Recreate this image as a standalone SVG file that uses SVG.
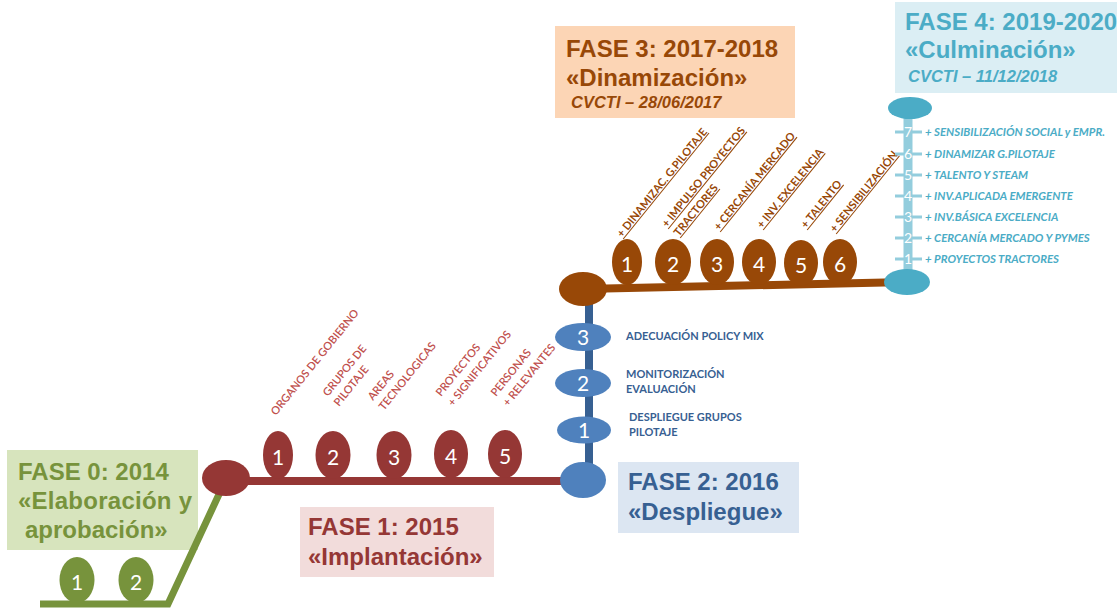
<svg xmlns="http://www.w3.org/2000/svg" width="1117" height="609" viewBox="0 0 1117 609">
<style>
.hd{font-family:"Liberation Sans",Arial,sans-serif;font-weight:bold;font-size:24px}
.sub{font-family:"Liberation Sans",Arial,sans-serif;font-weight:bold;font-style:italic;font-size:16.5px}
.num{font-family:Lato,"Open Sans",sans-serif;fill:#fff;text-anchor:middle}
.rl{font-family:Lato,"Open Sans",sans-serif;font-size:11px;fill:#c0504d;font-weight:600}
.bl{font-family:Lato,"Open Sans",sans-serif;font-size:11px;fill:#376092;font-weight:bold}
.br{font-family:Lato,"Open Sans",sans-serif;font-size:11px;fill:#984807;font-weight:bold;text-decoration:underline}
.cl{font-family:Lato,"Open Sans",sans-serif;font-size:11.4px;fill:#4bacc6;font-weight:bold;font-style:italic}
.tk{stroke:#93cddd;stroke-width:3}
</style>

<!-- Phase boxes -->
<g id="fase0">
  <rect x="7" y="450" width="191" height="100" fill="#d7e4bd"/>
  <text class="hd" fill="#77933c" x="18" y="480">FASE 0: 2014</text>
  <text class="hd" fill="#77933c" x="18" y="509" textLength="174">«Elaboración y</text>
  <text class="hd" fill="#77933c" x="25" y="538">aprobación»</text>
</g>
<g id="fase1">
  <rect x="300" y="507" width="194" height="70" fill="#f2dcdb"/>
  <text class="hd" fill="#953735" x="308" y="535">FASE 1: 2015</text>
  <text class="hd" fill="#953735" x="308" y="565">«Implantación»</text>
</g>
<g id="fase2">
  <rect x="618" y="462" width="181" height="71" fill="#dce6f2"/>
  <text class="hd" fill="#376092" x="628" y="490">FASE 2: 2016</text>
  <text class="hd" fill="#376092" x="628" y="520">«Despliegue»</text>
</g>
<g id="fase3">
  <rect x="555" y="26" width="240" height="92" fill="#fcd5b5"/>
  <text class="hd" fill="#984807" x="566" y="57">FASE 3: 2017-2018</text>
  <text class="hd" fill="#984807" x="566" y="86">«Dinamización»</text>
  <text class="sub" fill="#984807" x="571" y="108">CVCTI – 28/06/2017</text>
</g>
<g id="fase4">
  <rect x="895" y="2" width="222" height="91" fill="#dbeef4"/>
  <text class="hd" fill="#4bacc6" x="905" y="30">FASE 4: 2019-2020</text>
  <text class="hd" fill="#4bacc6" x="905" y="58">«Culminación»</text>
  <text class="sub" fill="#4bacc6" x="908" y="82">CVCTI – 11/12/2018</text>
</g>

<!-- Connectors -->
<g id="connectors" fill="none">
  <polyline points="40,604 168,604 221,490" stroke="#77933c" stroke-width="7"/>
  <line x1="226" y1="481" x2="583" y2="481" stroke="#953735" stroke-width="8"/>
  <line x1="589" y1="290" x2="589" y2="480" stroke="#376092" stroke-width="8"/>
  <line x1="583" y1="289" x2="907" y2="282" stroke="#984807" stroke-width="8"/>
  <line x1="908" y1="107" x2="908" y2="282" stroke="#93cddd" stroke-width="9"/>
</g>

<!-- Phase 0 milestones -->
<g id="p0-1"><ellipse cx="77" cy="580" rx="17.5" ry="23" fill="#77933c"/><text class="num" x="77" y="590" font-size="21">1</text></g>
<g id="p0-2"><ellipse cx="136" cy="580" rx="17.5" ry="23" fill="#77933c"/><text class="num" x="136" y="590" font-size="21">2</text></g>

<!-- Phase 1 -->
<g id="p1-start"><ellipse cx="226" cy="478" rx="24" ry="18" fill="#953735"/></g>
<g id="p1-1"><ellipse cx="278" cy="455" rx="15" ry="24" fill="#953735"/><text class="num" x="278" y="465" font-size="21">1</text>
  <text class="rl" transform="translate(276,416) rotate(-51)">ORGANOS DE GOBIERNO</text></g>
<g id="p1-2"><ellipse cx="333" cy="455" rx="17.5" ry="24" fill="#953735"/><text class="num" x="333" y="465" font-size="21">2</text>
  <text class="rl" transform="translate(328,397) rotate(-51)">GRUPOS DE</text>
  <text class="rl" transform="translate(339,407) rotate(-51)">PILOTAJE</text></g>
<g id="p1-3"><ellipse cx="394" cy="455" rx="17.5" ry="24" fill="#953735"/><text class="num" x="394" y="465" font-size="21">3</text>
  <text class="rl" transform="translate(373,401) rotate(-51)">AREAS</text>
  <text class="rl" transform="translate(384,411) rotate(-51)">TECNOLOGICAS</text></g>
<g id="p1-4"><ellipse cx="451" cy="454" rx="17" ry="24" fill="#953735"/><text class="num" x="451" y="464" font-size="21">4</text>
  <text class="rl" transform="translate(441,397) rotate(-51)">PROYECTOS</text>
  <text class="rl" transform="translate(453,407) rotate(-51)">+ SIGNIFICATIVOS</text></g>
<g id="p1-5"><ellipse cx="505" cy="454" rx="17" ry="24" fill="#953735"/><text class="num" x="505" y="464" font-size="21">5</text>
  <text class="rl" transform="translate(496,397) rotate(-51)">PERSONAS</text>
  <text class="rl" transform="translate(508,407) rotate(-51)">+ RELEVANTES</text></g>

<!-- Phase 2 -->
<g id="p2-end"><ellipse cx="583" cy="480" rx="23" ry="18" fill="#4f81bd"/></g>
<g id="p2-1"><ellipse cx="584" cy="430" rx="27" ry="13.5" fill="#4f81bd"/><text class="num" x="584" y="438" font-size="21">1</text>
  <text class="bl" x="629" y="421">DESPLIEGUE GRUPOS</text><text class="bl" x="629" y="436">PILOTAJE</text></g>
<g id="p2-2"><ellipse cx="583" cy="383" rx="28" ry="14" fill="#4f81bd"/><text class="num" x="583" y="391" font-size="21">2</text>
  <text class="bl" x="626" y="378">MONITORIZACIÓN</text><text class="bl" x="626" y="393">EVALUACIÓN</text></g>
<g id="p2-3"><ellipse cx="583" cy="337" rx="28" ry="14" fill="#4f81bd"/><text class="num" x="583" y="345" font-size="21">3</text>
  <text class="bl" x="626" y="340">ADECUACIÓN POLICY MIX</text></g>

<!-- Phase 3 -->
<g id="p3-start"><ellipse cx="583" cy="289" rx="24" ry="17" fill="#984807"/></g>
<g id="p3-1"><ellipse cx="627" cy="262" rx="15" ry="23" fill="#984807"/><text class="num" x="627" y="272" font-size="21">1</text>
  <text class="br" transform="translate(622,238) rotate(-51)">+ DINAMIZAC. G.PILOTAJE</text></g>
<g id="p3-2"><ellipse cx="673" cy="262" rx="18" ry="23" fill="#984807"/><text class="num" x="673" y="272" font-size="21">2</text>
  <text class="br" transform="translate(667,228) rotate(-51)">+ IMPULSO PROYECTOS</text>
  <text class="br" transform="translate(679,237) rotate(-51)">TRACTORES</text></g>
<g id="p3-3"><ellipse cx="717" cy="262" rx="17" ry="23" fill="#984807"/><text class="num" x="717" y="272" font-size="21">3</text>
  <text class="br" transform="translate(719,231) rotate(-51)">+ CERCANÍA MERCADO</text></g>
<g id="p3-4"><ellipse cx="759" cy="262" rx="17" ry="23" fill="#984807"/><text class="num" x="759" y="272" font-size="21">4</text>
  <text class="br" transform="translate(762,229) rotate(-51)">+ INV. EXCELENCIA</text></g>
<g id="p3-5"><ellipse cx="801" cy="263" rx="17" ry="23" fill="#984807"/><text class="num" x="801" y="273" font-size="21">5</text>
  <text class="br" transform="translate(806,229) rotate(-51)">+ TALENTO</text></g>
<g id="p3-6"><ellipse cx="840" cy="262" rx="17" ry="23" fill="#984807"/><text class="num" x="840" y="272" font-size="21">6</text>
  <text class="br" transform="translate(835,233) rotate(-51)">+ SENSIBILIZACIÓN</text></g>

<!-- Phase 4 -->
<g id="p4-top"><ellipse cx="910" cy="108" rx="22" ry="11" fill="#4bacc6"/></g>
<g id="p4-bottom"><ellipse cx="907" cy="282" rx="23" ry="13" fill="#4bacc6"/></g>
<g id="p4-7"><line class="tk" x1="895" y1="132" x2="922" y2="132"/><text class="num" x="908" y="137" font-size="14">7</text><text class="cl" x="925" y="136">+ SENSIBILIZACIÓN SOCIAL y EMPR.</text></g>
<g id="p4-6"><line class="tk" x1="895" y1="154" x2="922" y2="154"/><text class="num" x="908" y="159" font-size="14">6</text><text class="cl" x="925" y="158">+ DINAMIZAR G.PILOTAJE</text></g>
<g id="p4-5"><line class="tk" x1="895" y1="175" x2="922" y2="175"/><text class="num" x="908" y="180" font-size="14">5</text><text class="cl" x="925" y="179">+ TALENTO  Y STEAM</text></g>
<g id="p4-4"><line class="tk" x1="895" y1="196" x2="922" y2="196"/><text class="num" x="908" y="201" font-size="14">4</text><text class="cl" x="925" y="200">+ INV.APLICADA EMERGENTE</text></g>
<g id="p4-3"><line class="tk" x1="895" y1="217" x2="922" y2="217"/><text class="num" x="908" y="222" font-size="14">3</text><text class="cl" x="925" y="221">+ INV.BÁSICA EXCELENCIA</text></g>
<g id="p4-2"><line class="tk" x1="895" y1="238" x2="922" y2="238"/><text class="num" x="908" y="243" font-size="14">2</text><text class="cl" x="925" y="242">+ CERCANÍA MERCADO Y PYMES</text></g>
<g id="p4-1"><line class="tk" x1="895" y1="259" x2="922" y2="259"/><text class="num" x="908" y="264" font-size="14">1</text><text class="cl" x="925" y="263">+ PROYECTOS TRACTORES</text></g>
</svg>
